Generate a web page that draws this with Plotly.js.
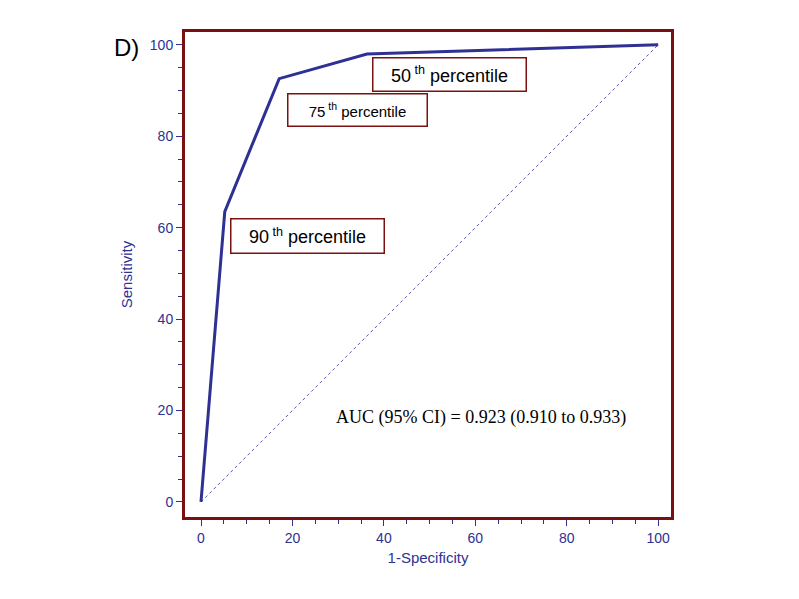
<!DOCTYPE html><html><head><script src="https://cdn.plot.ly/plotly-3.0.1.min.js"></script></head><body style="margin:0"><div id="c" style="width:799px;height:599px"></div><script>
const fpr=[0,5.2,17.1,36.3,100];
const sens=[0,63.5,92.6,98,100];
const diagX=[0,100], diagY=[0,100];
const tickVals=[0,20,40,60,80,100];
const blue='#2e3192', red='#7a1010';
const box=(x,y,t,size,w,h)=>({x:x,y:y,xref:'x',yref:'y',text:t,showarrow:false,xanchor:'left',yanchor:'middle',width:w,height:h,align:'center',bordercolor:red,borderwidth:1.5,borderpad:0,bgcolor:'white',font:{family:'Liberation Sans, Arial',size:size,color:'#000'}});
Plotly.newPlot('c',[
 {x:diagX,y:diagY,mode:'lines',line:{color:blue,width:0.8,dash:'3px,3px'},hoverinfo:'skip'},
 {x:fpr,y:sens,mode:'lines',line:{color:blue,width:3}}
],{
 width:799,height:599,showlegend:false,paper_bgcolor:'white',plot_bgcolor:'white',
 margin:{l:185,r:128,t:32,b:82},
 xaxis:{range:[-3.5,102.8],tickvals:tickVals,showgrid:false,zeroline:false,ticks:'outside',ticklen:6,tickcolor:blue,
  minor:{dtick:5,ticks:'outside',ticklen:4,tickcolor:blue},
  showline:true,mirror:true,linecolor:red,linewidth:3,tickfont:{family:'Liberation Sans, Arial',size:14,color:blue},
  title:{text:'1-Specificity',font:{family:'Liberation Sans, Arial',size:15,color:blue},standoff:8}},
 yaxis:{range:[-3.3,102.8],tickvals:tickVals,showgrid:false,zeroline:false,ticks:'outside',ticklen:6,tickcolor:blue,
  minor:{dtick:5,ticks:'outside',ticklen:4,tickcolor:blue},
  showline:true,mirror:true,linecolor:red,linewidth:3,tickfont:{family:'Liberation Sans, Arial',size:14,color:blue},
  title:{text:'Sensitivity',font:{family:'Liberation Sans, Arial',size:15,color:blue},standoff:14}},
 annotations:[
  box(37.4,93.4,'50<sup> th</sup> percentile',18,152,32),
  box(18.8,85.8,'75<sup> th</sup> percentile',15,138,31),
  box(6.3,58.2,'90<sup> th</sup> percentile',18,152,33),
  {x:29,y:18.5,xref:'x',yref:'y',text:'AUC (95% CI) = 0.923 (0.910 to 0.933)',showarrow:false,xanchor:'left',font:{family:'Liberation Serif, Times New Roman',size:18,color:'#000'}},
  {x:-0.12,y:0.969,xref:'paper',yref:'paper',xanchor:'center',yanchor:'middle',text:'D)',showarrow:false,font:{family:'Liberation Sans, Arial',size:24,color:'#000'}}
 ]
},{displayModeBar:false});
</script></body></html>
